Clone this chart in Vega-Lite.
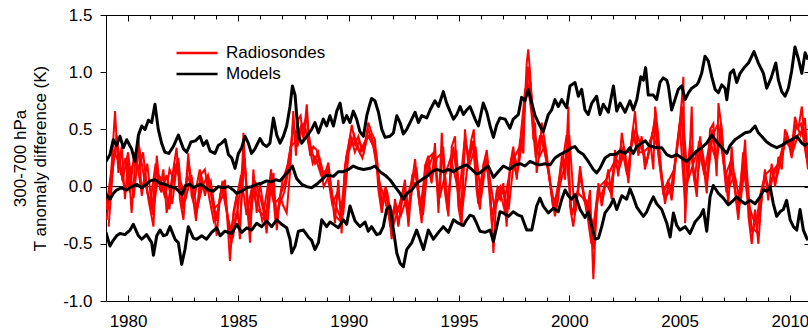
{
"$schema":"https://vega.github.io/schema/vega-lite/v6.json",
"width":702,"height":286,
"autosize":{"type":"none"},
"padding":{"left":106,"top":15,"right":0,"bottom":29},
"background":"white",
"config":{"view":{"stroke":null},"font":"Liberation Sans","axis":{"grid":false,"domainColor":"black","tickColor":"black","labelColor":"black","titleColor":"black","labelFont":"Liberation Sans","titleFont":"Liberation Sans","labelFontSize":17,"titleFontSize":17,"titleFontWeight":"normal","domainWidth":1,"tickWidth":1}},
"datasets":{
"models":[
{"s":"U","t":1979.00,"v":0.22},{"s":"U","t":1979.18,"v":0.28},{"s":"U","t":1979.33,"v":0.41},{"s":"U","t":1979.48,"v":0.36},{"s":"U","t":1979.63,"v":0.44},{"s":"U","t":1979.79,"v":0.34},{"s":"U","t":1979.94,"v":0.41},{"s":"U","t":1980.16,"v":0.33},{"s":"U","t":1980.31,"v":0.22},{"s":"U","t":1980.47,"v":0.45},{"s":"U","t":1980.62,"v":0.53},{"s":"U","t":1980.77,"v":0.50},{"s":"U","t":1980.92,"v":0.58},{"s":"U","t":1981.07,"v":0.56},{"s":"U","t":1981.22,"v":0.72},{"s":"U","t":1981.37,"v":0.50},{"s":"U","t":1981.52,"v":0.38},{"s":"U","t":1981.67,"v":0.30},{"s":"U","t":1981.85,"v":0.29},{"s":"U","t":1982.05,"v":0.35},{"s":"U","t":1982.28,"v":0.45},{"s":"U","t":1982.51,"v":0.33},{"s":"U","t":1982.66,"v":0.30},{"s":"U","t":1982.85,"v":0.39},{"s":"U","t":1983.05,"v":0.40},{"s":"U","t":1983.26,"v":0.44},{"s":"U","t":1983.41,"v":0.36},{"s":"U","t":1983.56,"v":0.40},{"s":"U","t":1983.72,"v":0.31},{"s":"U","t":1983.94,"v":0.29},{"s":"U","t":1984.09,"v":0.36},{"s":"U","t":1984.24,"v":0.38},{"s":"U","t":1984.40,"v":0.41},{"s":"U","t":1984.55,"v":0.28},{"s":"U","t":1984.70,"v":0.25},{"s":"U","t":1984.85,"v":0.16},{"s":"U","t":1985.00,"v":0.29},{"s":"U","t":1985.15,"v":0.34},{"s":"U","t":1985.30,"v":0.44},{"s":"U","t":1985.45,"v":0.38},{"s":"U","t":1985.60,"v":0.29},{"s":"U","t":1985.75,"v":0.33},{"s":"U","t":1985.98,"v":0.42},{"s":"U","t":1986.13,"v":0.37},{"s":"U","t":1986.28,"v":0.35},{"s":"U","t":1986.43,"v":0.38},{"s":"U","t":1986.59,"v":0.60},{"s":"U","t":1986.74,"v":0.45},{"s":"U","t":1986.89,"v":0.38},{"s":"U","t":1987.04,"v":0.44},{"s":"U","t":1987.19,"v":0.53},{"s":"U","t":1987.34,"v":0.70},{"s":"U","t":1987.45,"v":0.88},{"s":"U","t":1987.57,"v":0.80},{"s":"U","t":1987.72,"v":0.44},{"s":"U","t":1987.87,"v":0.38},{"s":"U","t":1988.10,"v":0.44},{"s":"U","t":1988.32,"v":0.50},{"s":"U","t":1988.47,"v":0.56},{"s":"U","t":1988.63,"v":0.47},{"s":"U","t":1988.85,"v":0.59},{"s":"U","t":1989.00,"v":0.53},{"s":"U","t":1989.15,"v":0.62},{"s":"U","t":1989.31,"v":0.53},{"s":"U","t":1989.46,"v":0.66},{"s":"U","t":1989.61,"v":0.73},{"s":"U","t":1989.76,"v":0.56},{"s":"U","t":1989.91,"v":0.62},{"s":"U","t":1990.06,"v":0.56},{"s":"U","t":1990.21,"v":0.66},{"s":"U","t":1990.36,"v":0.59},{"s":"U","t":1990.51,"v":0.48},{"s":"U","t":1990.67,"v":0.44},{"s":"U","t":1990.82,"v":0.62},{"s":"U","t":1990.93,"v":0.70},{"s":"U","t":1991.04,"v":0.77},{"s":"U","t":1991.19,"v":0.75},{"s":"U","t":1991.35,"v":0.65},{"s":"U","t":1991.50,"v":0.50},{"s":"U","t":1991.65,"v":0.43},{"s":"U","t":1991.87,"v":0.44},{"s":"U","t":1992.03,"v":0.47},{"s":"U","t":1992.18,"v":0.62},{"s":"U","t":1992.33,"v":0.56},{"s":"U","t":1992.48,"v":0.46},{"s":"U","t":1992.63,"v":0.50},{"s":"U","t":1992.86,"v":0.59},{"s":"U","t":1993.01,"v":0.65},{"s":"U","t":1993.16,"v":0.56},{"s":"U","t":1993.31,"v":0.62},{"s":"U","t":1993.54,"v":0.60},{"s":"U","t":1993.69,"v":0.67},{"s":"U","t":1993.91,"v":0.75},{"s":"U","t":1994.07,"v":0.70},{"s":"U","t":1994.29,"v":0.83},{"s":"U","t":1994.44,"v":0.73},{"s":"U","t":1994.59,"v":0.66},{"s":"U","t":1994.75,"v":0.59},{"s":"U","t":1994.90,"v":0.63},{"s":"U","t":1995.05,"v":0.70},{"s":"U","t":1995.20,"v":0.63},{"s":"U","t":1995.35,"v":0.67},{"s":"U","t":1995.50,"v":0.70},{"s":"U","t":1995.73,"v":0.59},{"s":"U","t":1995.88,"v":0.53},{"s":"U","t":1996.10,"v":0.73},{"s":"U","t":1996.26,"v":0.65},{"s":"U","t":1996.41,"v":0.53},{"s":"U","t":1996.56,"v":0.43},{"s":"U","t":1996.71,"v":0.54},{"s":"U","t":1996.86,"v":0.60},{"s":"U","t":1997.09,"v":0.59},{"s":"U","t":1997.31,"v":0.51},{"s":"U","t":1997.46,"v":0.59},{"s":"U","t":1997.69,"v":0.63},{"s":"U","t":1997.84,"v":0.78},{"s":"U","t":1997.99,"v":0.75},{"s":"U","t":1998.14,"v":0.85},{"s":"U","t":1998.30,"v":0.73},{"s":"U","t":1998.45,"v":0.62},{"s":"U","t":1998.67,"v":0.53},{"s":"U","t":1998.82,"v":0.48},{"s":"U","t":1999.05,"v":0.63},{"s":"U","t":1999.20,"v":0.67},{"s":"U","t":1999.35,"v":0.76},{"s":"U","t":1999.50,"v":0.70},{"s":"U","t":1999.66,"v":0.76},{"s":"U","t":1999.88,"v":0.69},{"s":"U","t":2000.03,"v":0.88},{"s":"U","t":2000.26,"v":0.91},{"s":"U","t":2000.41,"v":0.79},{"s":"U","t":2000.56,"v":0.85},{"s":"U","t":2000.71,"v":0.67},{"s":"U","t":2000.86,"v":0.63},{"s":"U","t":2001.02,"v":0.73},{"s":"U","t":2001.24,"v":0.79},{"s":"U","t":2001.39,"v":0.63},{"s":"U","t":2001.54,"v":0.72},{"s":"U","t":2001.77,"v":0.65},{"s":"U","t":2002.00,"v":0.88},{"s":"U","t":2002.15,"v":0.66},{"s":"U","t":2002.30,"v":0.73},{"s":"U","t":2002.53,"v":0.65},{"s":"U","t":2002.75,"v":0.75},{"s":"U","t":2002.90,"v":0.67},{"s":"U","t":2003.06,"v":0.76},{"s":"U","t":2003.24,"v":0.96},{"s":"U","t":2003.36,"v":0.93},{"s":"U","t":2003.46,"v":1.04},{"s":"U","t":2003.58,"v":0.80},{"s":"U","t":2003.81,"v":0.80},{"s":"U","t":2003.96,"v":0.76},{"s":"U","t":2004.11,"v":0.91},{"s":"U","t":2004.26,"v":0.95},{"s":"U","t":2004.42,"v":0.93},{"s":"U","t":2004.49,"v":0.88},{"s":"U","t":2004.64,"v":0.67},{"s":"U","t":2004.79,"v":0.76},{"s":"U","t":2004.94,"v":0.85},{"s":"U","t":2005.10,"v":0.88},{"s":"U","t":2005.25,"v":0.76},{"s":"U","t":2005.40,"v":0.82},{"s":"U","t":2005.55,"v":0.86},{"s":"U","t":2005.78,"v":0.89},{"s":"U","t":2005.85,"v":0.91},{"s":"U","t":2006.00,"v":0.99},{"s":"U","t":2006.15,"v":1.14},{"s":"U","t":2006.30,"v":1.10},{"s":"U","t":2006.46,"v":0.96},{"s":"U","t":2006.61,"v":0.85},{"s":"U","t":2006.76,"v":0.82},{"s":"U","t":2006.91,"v":0.89},{"s":"U","t":2007.06,"v":0.86},{"s":"U","t":2007.14,"v":0.76},{"s":"U","t":2007.29,"v":0.99},{"s":"U","t":2007.44,"v":1.02},{"s":"U","t":2007.59,"v":0.91},{"s":"U","t":2007.74,"v":0.99},{"s":"U","t":2007.97,"v":1.05},{"s":"U","t":2008.12,"v":1.08},{"s":"U","t":2008.37,"v":1.18},{"s":"U","t":2008.57,"v":1.08},{"s":"U","t":2008.80,"v":0.99},{"s":"U","t":2008.95,"v":0.86},{"s":"U","t":2009.15,"v":0.95},{"s":"U","t":2009.36,"v":1.08},{"s":"U","t":2009.48,"v":0.93},{"s":"U","t":2009.63,"v":0.83},{"s":"U","t":2009.78,"v":0.79},{"s":"U","t":2009.93,"v":0.86},{"s":"U","t":2010.08,"v":1.01},{"s":"U","t":2010.23,"v":1.22},{"s":"U","t":2010.38,"v":1.12},{"s":"U","t":2010.54,"v":0.99},{"s":"U","t":2010.69,"v":1.17},{"s":"U","t":2010.82,"v":1.11},
{"s":"M","t":1979.00,"v":-0.07},{"s":"M","t":1979.18,"v":-0.11},{"s":"M","t":1979.33,"v":-0.06},{"s":"M","t":1979.48,"v":-0.03},{"s":"M","t":1979.71,"v":-0.01},{"s":"M","t":1979.94,"v":-0.03},{"s":"M","t":1980.16,"v":0.00},{"s":"M","t":1980.39,"v":0.02},{"s":"M","t":1980.62,"v":-0.01},{"s":"M","t":1980.84,"v":0.02},{"s":"M","t":1980.99,"v":0.05},{"s":"M","t":1981.22,"v":0.06},{"s":"M","t":1981.45,"v":0.03},{"s":"M","t":1981.67,"v":0.02},{"s":"M","t":1981.90,"v":0.00},{"s":"M","t":1982.13,"v":-0.01},{"s":"M","t":1982.30,"v":-0.04},{"s":"M","t":1982.45,"v":-0.07},{"s":"M","t":1982.60,"v":0.01},{"s":"M","t":1982.80,"v":0.02},{"s":"M","t":1982.96,"v":-0.01},{"s":"M","t":1983.26,"v":0.02},{"s":"M","t":1983.45,"v":0.00},{"s":"M","t":1983.64,"v":-0.03},{"s":"M","t":1983.87,"v":-0.04},{"s":"M","t":1984.09,"v":0.00},{"s":"M","t":1984.32,"v":-0.01},{"s":"M","t":1984.55,"v":0.00},{"s":"M","t":1984.77,"v":-0.03},{"s":"M","t":1984.92,"v":-0.06},{"s":"M","t":1985.15,"v":-0.04},{"s":"M","t":1985.38,"v":-0.01},{"s":"M","t":1985.60,"v":0.00},{"s":"M","t":1985.83,"v":0.02},{"s":"M","t":1986.06,"v":0.03},{"s":"M","t":1986.28,"v":0.05},{"s":"M","t":1986.50,"v":0.04},{"s":"M","t":1986.70,"v":0.06},{"s":"M","t":1986.89,"v":0.05},{"s":"M","t":1987.11,"v":0.10},{"s":"M","t":1987.34,"v":0.15},{"s":"M","t":1987.45,"v":0.18},{"s":"M","t":1987.64,"v":0.07},{"s":"M","t":1987.87,"v":0.02},{"s":"M","t":1988.10,"v":0.00},{"s":"M","t":1988.32,"v":-0.01},{"s":"M","t":1988.55,"v":0.02},{"s":"M","t":1988.78,"v":0.06},{"s":"M","t":1989.00,"v":0.10},{"s":"M","t":1989.31,"v":0.09},{"s":"M","t":1989.53,"v":0.13},{"s":"M","t":1989.76,"v":0.13},{"s":"M","t":1989.99,"v":0.15},{"s":"M","t":1990.21,"v":0.18},{"s":"M","t":1990.44,"v":0.16},{"s":"M","t":1990.67,"v":0.15},{"s":"M","t":1990.97,"v":0.16},{"s":"M","t":1991.19,"v":0.18},{"s":"M","t":1991.42,"v":0.13},{"s":"M","t":1991.65,"v":0.10},{"s":"M","t":1991.87,"v":0.06},{"s":"M","t":1992.10,"v":0.00},{"s":"M","t":1992.33,"v":-0.06},{"s":"M","t":1992.48,"v":-0.11},{"s":"M","t":1992.63,"v":-0.06},{"s":"M","t":1992.86,"v":-0.03},{"s":"M","t":1993.08,"v":0.03},{"s":"M","t":1993.31,"v":0.06},{"s":"M","t":1993.54,"v":0.09},{"s":"M","t":1993.76,"v":0.13},{"s":"M","t":1993.99,"v":0.15},{"s":"M","t":1994.29,"v":0.13},{"s":"M","t":1994.52,"v":0.15},{"s":"M","t":1994.75,"v":0.13},{"s":"M","t":1994.97,"v":0.16},{"s":"M","t":1995.20,"v":0.18},{"s":"M","t":1995.35,"v":0.19},{"s":"M","t":1995.58,"v":0.15},{"s":"M","t":1995.80,"v":0.11},{"s":"M","t":1995.95,"v":0.12},{"s":"M","t":1996.18,"v":0.16},{"s":"M","t":1996.33,"v":0.18},{"s":"M","t":1996.56,"v":0.08},{"s":"M","t":1996.78,"v":0.13},{"s":"M","t":1997.01,"v":0.18},{"s":"M","t":1997.31,"v":0.15},{"s":"M","t":1997.54,"v":0.19},{"s":"M","t":1997.77,"v":0.20},{"s":"M","t":1997.99,"v":0.18},{"s":"M","t":1998.22,"v":0.22},{"s":"M","t":1998.45,"v":0.20},{"s":"M","t":1998.67,"v":0.19},{"s":"M","t":1998.90,"v":0.20},{"s":"M","t":1999.13,"v":0.19},{"s":"M","t":1999.35,"v":0.25},{"s":"M","t":1999.58,"v":0.28},{"s":"M","t":1999.88,"v":0.31},{"s":"M","t":2000.11,"v":0.34},{"s":"M","t":2000.26,"v":0.35},{"s":"M","t":2000.41,"v":0.31},{"s":"M","t":2000.64,"v":0.28},{"s":"M","t":2000.86,"v":0.22},{"s":"M","t":2001.09,"v":0.15},{"s":"M","t":2001.24,"v":0.12},{"s":"M","t":2001.39,"v":0.16},{"s":"M","t":2001.62,"v":0.25},{"s":"M","t":2001.85,"v":0.28},{"s":"M","t":2002.07,"v":0.28},{"s":"M","t":2002.30,"v":0.31},{"s":"M","t":2002.53,"v":0.29},{"s":"M","t":2002.75,"v":0.34},{"s":"M","t":2002.90,"v":0.29},{"s":"M","t":2003.06,"v":0.35},{"s":"M","t":2003.28,"v":0.38},{"s":"M","t":2003.45,"v":0.40},{"s":"M","t":2003.60,"v":0.36},{"s":"M","t":2003.74,"v":0.35},{"s":"M","t":2003.96,"v":0.34},{"s":"M","t":2004.19,"v":0.34},{"s":"M","t":2004.42,"v":0.28},{"s":"M","t":2004.64,"v":0.26},{"s":"M","t":2004.87,"v":0.28},{"s":"M","t":2005.10,"v":0.25},{"s":"M","t":2005.32,"v":0.22},{"s":"M","t":2005.47,"v":0.25},{"s":"M","t":2005.62,"v":0.28},{"s":"M","t":2005.78,"v":0.31},{"s":"M","t":2006.00,"v":0.34},{"s":"M","t":2006.23,"v":0.38},{"s":"M","t":2006.46,"v":0.45},{"s":"M","t":2006.68,"v":0.39},{"s":"M","t":2006.91,"v":0.34},{"s":"M","t":2007.14,"v":0.29},{"s":"M","t":2007.29,"v":0.36},{"s":"M","t":2007.51,"v":0.41},{"s":"M","t":2007.74,"v":0.44},{"s":"M","t":2007.97,"v":0.47},{"s":"M","t":2008.19,"v":0.48},{"s":"M","t":2008.42,"v":0.53},{"s":"M","t":2008.57,"v":0.47},{"s":"M","t":2008.72,"v":0.44},{"s":"M","t":2008.95,"v":0.39},{"s":"M","t":2009.18,"v":0.36},{"s":"M","t":2009.40,"v":0.34},{"s":"M","t":2009.63,"v":0.36},{"s":"M","t":2009.85,"v":0.39},{"s":"M","t":2010.08,"v":0.41},{"s":"M","t":2010.31,"v":0.44},{"s":"M","t":2010.54,"v":0.38},{"s":"M","t":2010.69,"v":0.36},{"s":"M","t":2010.82,"v":0.38},
{"s":"L","t":1979.00,"v":-0.40},{"s":"L","t":1979.18,"v":-0.52},{"s":"L","t":1979.33,"v":-0.47},{"s":"L","t":1979.48,"v":-0.43},{"s":"L","t":1979.63,"v":-0.41},{"s":"L","t":1979.86,"v":-0.42},{"s":"L","t":1980.09,"v":-0.38},{"s":"L","t":1980.24,"v":-0.33},{"s":"L","t":1980.47,"v":-0.43},{"s":"L","t":1980.62,"v":-0.46},{"s":"L","t":1980.84,"v":-0.42},{"s":"L","t":1981.07,"v":-0.49},{"s":"L","t":1981.15,"v":-0.60},{"s":"L","t":1981.30,"v":-0.43},{"s":"L","t":1981.45,"v":-0.38},{"s":"L","t":1981.60,"v":-0.43},{"s":"L","t":1981.75,"v":-0.42},{"s":"L","t":1981.90,"v":-0.35},{"s":"L","t":1982.13,"v":-0.46},{"s":"L","t":1982.28,"v":-0.49},{"s":"L","t":1982.43,"v":-0.68},{"s":"L","t":1982.58,"v":-0.55},{"s":"L","t":1982.73,"v":-0.35},{"s":"L","t":1982.96,"v":-0.45},{"s":"L","t":1983.11,"v":-0.46},{"s":"L","t":1983.34,"v":-0.43},{"s":"L","t":1983.56,"v":-0.46},{"s":"L","t":1983.79,"v":-0.40},{"s":"L","t":1984.02,"v":-0.36},{"s":"L","t":1984.17,"v":-0.43},{"s":"L","t":1984.39,"v":-0.39},{"s":"L","t":1984.70,"v":-0.41},{"s":"L","t":1984.92,"v":-0.33},{"s":"L","t":1985.15,"v":-0.40},{"s":"L","t":1985.38,"v":-0.36},{"s":"L","t":1985.60,"v":-0.38},{"s":"L","t":1985.83,"v":-0.32},{"s":"L","t":1986.06,"v":-0.35},{"s":"L","t":1986.28,"v":-0.30},{"s":"L","t":1986.51,"v":-0.35},{"s":"L","t":1986.74,"v":-0.29},{"s":"L","t":1986.96,"v":-0.33},{"s":"L","t":1987.19,"v":-0.36},{"s":"L","t":1987.34,"v":-0.46},{"s":"L","t":1987.42,"v":-0.58},{"s":"L","t":1987.57,"v":-0.52},{"s":"L","t":1987.72,"v":-0.39},{"s":"L","t":1987.95,"v":-0.38},{"s":"L","t":1988.17,"v":-0.44},{"s":"L","t":1988.32,"v":-0.47},{"s":"L","t":1988.47,"v":-0.55},{"s":"L","t":1988.63,"v":-0.49},{"s":"L","t":1988.78,"v":-0.29},{"s":"L","t":1989.00,"v":-0.35},{"s":"L","t":1989.15,"v":-0.31},{"s":"L","t":1989.31,"v":-0.33},{"s":"L","t":1989.53,"v":-0.36},{"s":"L","t":1989.76,"v":-0.29},{"s":"L","t":1989.91,"v":-0.33},{"s":"L","t":1990.06,"v":-0.17},{"s":"L","t":1990.29,"v":-0.30},{"s":"L","t":1990.51,"v":-0.35},{"s":"L","t":1990.74,"v":-0.31},{"s":"L","t":1990.89,"v":-0.39},{"s":"L","t":1991.04,"v":-0.35},{"s":"L","t":1991.27,"v":-0.42},{"s":"L","t":1991.42,"v":-0.41},{"s":"L","t":1991.57,"v":-0.35},{"s":"L","t":1991.72,"v":-0.20},{"s":"L","t":1991.87,"v":-0.17},{"s":"L","t":1992.03,"v":-0.38},{"s":"L","t":1992.18,"v":-0.58},{"s":"L","t":1992.33,"v":-0.67},{"s":"L","t":1992.48,"v":-0.70},{"s":"L","t":1992.63,"v":-0.55},{"s":"L","t":1992.86,"v":-0.49},{"s":"L","t":1993.08,"v":-0.38},{"s":"L","t":1993.23,"v":-0.46},{"s":"L","t":1993.39,"v":-0.55},{"s":"L","t":1993.61,"v":-0.38},{"s":"L","t":1993.84,"v":-0.46},{"s":"L","t":1994.07,"v":-0.40},{"s":"L","t":1994.29,"v":-0.35},{"s":"L","t":1994.52,"v":-0.40},{"s":"L","t":1994.75,"v":-0.29},{"s":"L","t":1994.97,"v":-0.32},{"s":"L","t":1995.20,"v":-0.34},{"s":"L","t":1995.35,"v":-0.29},{"s":"L","t":1995.50,"v":-0.25},{"s":"L","t":1995.65,"v":-0.26},{"s":"L","t":1995.80,"v":-0.32},{"s":"L","t":1995.95,"v":-0.39},{"s":"L","t":1996.18,"v":-0.40},{"s":"L","t":1996.41,"v":-0.38},{"s":"L","t":1996.56,"v":-0.48},{"s":"L","t":1996.71,"v":-0.35},{"s":"L","t":1996.86,"v":-0.22},{"s":"L","t":1997.01,"v":-0.23},{"s":"L","t":1997.24,"v":-0.26},{"s":"L","t":1997.46,"v":-0.22},{"s":"L","t":1997.69,"v":-0.25},{"s":"L","t":1997.84,"v":-0.26},{"s":"L","t":1998.07,"v":-0.38},{"s":"L","t":1998.30,"v":-0.38},{"s":"L","t":1998.52,"v":-0.17},{"s":"L","t":1998.67,"v":-0.10},{"s":"L","t":1998.82,"v":-0.17},{"s":"L","t":1999.05,"v":-0.23},{"s":"L","t":1999.28,"v":-0.19},{"s":"L","t":1999.50,"v":-0.22},{"s":"L","t":1999.66,"v":-0.11},{"s":"L","t":1999.81,"v":-0.03},{"s":"L","t":1999.96,"v":-0.08},{"s":"L","t":2000.11,"v":-0.11},{"s":"L","t":2000.26,"v":-0.07},{"s":"L","t":2000.49,"v":-0.20},{"s":"L","t":2000.71,"v":-0.27},{"s":"L","t":2000.86,"v":-0.22},{"s":"L","t":2001.02,"v":-0.35},{"s":"L","t":2001.17,"v":-0.46},{"s":"L","t":2001.32,"v":-0.45},{"s":"L","t":2001.47,"v":-0.35},{"s":"L","t":2001.62,"v":-0.23},{"s":"L","t":2001.85,"v":-0.17},{"s":"L","t":2002.00,"v":-0.11},{"s":"L","t":2002.15,"v":-0.20},{"s":"L","t":2002.38,"v":-0.08},{"s":"L","t":2002.60,"v":-0.11},{"s":"L","t":2002.75,"v":-0.02},{"s":"L","t":2002.90,"v":-0.09},{"s":"L","t":2003.06,"v":-0.18},{"s":"L","t":2003.21,"v":-0.22},{"s":"L","t":2003.36,"v":-0.26},{"s":"L","t":2003.51,"v":-0.22},{"s":"L","t":2003.66,"v":-0.15},{"s":"L","t":2003.81,"v":-0.09},{"s":"L","t":2003.96,"v":-0.15},{"s":"L","t":2004.19,"v":-0.20},{"s":"L","t":2004.42,"v":-0.32},{"s":"L","t":2004.57,"v":-0.44},{"s":"L","t":2004.72,"v":-0.23},{"s":"L","t":2004.87,"v":-0.34},{"s":"L","t":2005.02,"v":-0.38},{"s":"L","t":2005.25,"v":-0.35},{"s":"L","t":2005.47,"v":-0.41},{"s":"L","t":2005.70,"v":-0.31},{"s":"L","t":2005.93,"v":-0.26},{"s":"L","t":2006.08,"v":-0.20},{"s":"L","t":2006.23,"v":-0.39},{"s":"L","t":2006.38,"v":-0.09},{"s":"L","t":2006.53,"v":0.01},{"s":"L","t":2006.76,"v":-0.06},{"s":"L","t":2006.98,"v":-0.10},{"s":"L","t":2007.21,"v":-0.16},{"s":"L","t":2007.44,"v":-0.12},{"s":"L","t":2007.59,"v":-0.09},{"s":"L","t":2007.74,"v":-0.12},{"s":"L","t":2007.97,"v":-0.15},{"s":"L","t":2008.19,"v":-0.12},{"s":"L","t":2008.42,"v":-0.15},{"s":"L","t":2008.65,"v":-0.09},{"s":"L","t":2008.80,"v":-0.03},{"s":"L","t":2008.95,"v":-0.04},{"s":"L","t":2009.10,"v":0.00},{"s":"L","t":2009.25,"v":-0.15},{"s":"L","t":2009.40,"v":-0.26},{"s":"L","t":2009.55,"v":-0.22},{"s":"L","t":2009.70,"v":-0.20},{"s":"L","t":2009.85,"v":-0.12},{"s":"L","t":2010.01,"v":-0.29},{"s":"L","t":2010.16,"v":-0.35},{"s":"L","t":2010.31,"v":-0.38},{"s":"L","t":2010.46,"v":-0.20},{"s":"L","t":2010.61,"v":-0.38},{"s":"L","t":2010.76,"v":-0.45},{"s":"L","t":2010.82,"v":-0.47}
],
"sondes":[
{"s":"R1","t":1979.03,"v":-0.29},{"s":"R1","t":1979.18,"v":-0.03},{"s":"R1","t":1979.30,"v":0.32},{"s":"R1","t":1979.41,"v":0.66},{"s":"R1","t":1979.56,"v":0.12},{"s":"R1","t":1979.71,"v":0.35},{"s":"R1","t":1979.86,"v":-0.11},{"s":"R1","t":1980.01,"v":0.24},{"s":"R1","t":1980.16,"v":-0.23},{"s":"R1","t":1980.31,"v":0.18},{"s":"R1","t":1980.47,"v":0.44},{"s":"R1","t":1980.62,"v":-0.08},{"s":"R1","t":1980.77,"v":0.12},{"s":"R1","t":1980.92,"v":-0.11},{"s":"R1","t":1981.15,"v":-0.35},{"s":"R1","t":1981.30,"v":0.27},{"s":"R1","t":1981.45,"v":-0.03},{"s":"R1","t":1981.60,"v":0.15},{"s":"R1","t":1981.75,"v":-0.23},{"s":"R1","t":1981.98,"v":0.06},{"s":"R1","t":1982.20,"v":0.34},{"s":"R1","t":1982.35,"v":-0.11},{"s":"R1","t":1982.51,"v":-0.29},{"s":"R1","t":1982.73,"v":0.29},{"s":"R1","t":1982.88,"v":-0.08},{"s":"R1","t":1983.11,"v":-0.23},{"s":"R1","t":1983.34,"v":0.06},{"s":"R1","t":1983.49,"v":-0.08},{"s":"R1","t":1983.64,"v":0.09},{"s":"R1","t":1983.87,"v":-0.17},{"s":"R1","t":1984.02,"v":-0.43},{"s":"R1","t":1984.17,"v":-0.08},{"s":"R1","t":1984.39,"v":0.06},{"s":"R1","t":1984.52,"v":-0.35},{"s":"R1","t":1984.62,"v":-0.65},{"s":"R1","t":1984.77,"v":-0.23},{"s":"R1","t":1984.92,"v":-0.08},{"s":"R1","t":1985.07,"v":-0.46},{"s":"R1","t":1985.23,"v":0.47},{"s":"R1","t":1985.38,"v":-0.11},{"s":"R1","t":1985.53,"v":-0.49},{"s":"R1","t":1985.68,"v":0.15},{"s":"R1","t":1985.83,"v":-0.23},{"s":"R1","t":1985.98,"v":0.03},{"s":"R1","t":1986.13,"v":-0.17},{"s":"R1","t":1986.28,"v":-0.41},{"s":"R1","t":1986.43,"v":-0.08},{"s":"R1","t":1986.59,"v":0.12},{"s":"R1","t":1986.74,"v":-0.38},{"s":"R1","t":1986.89,"v":-0.08},{"s":"R1","t":1987.04,"v":-0.17},{"s":"R1","t":1987.19,"v":-0.23},{"s":"R1","t":1987.34,"v":0.12},{"s":"R1","t":1987.49,"v":0.66},{"s":"R1","t":1987.61,"v":0.27},{"s":"R1","t":1987.72,"v":0.59},{"s":"R1","t":1987.82,"v":0.62},{"s":"R1","t":1987.95,"v":0.41},{"s":"R1","t":1988.10,"v":0.72},{"s":"R1","t":1988.25,"v":0.27},{"s":"R1","t":1988.40,"v":0.35},{"s":"R1","t":1988.55,"v":0.32},{"s":"R1","t":1988.70,"v":0.18},{"s":"R1","t":1988.85,"v":0.06},{"s":"R1","t":1989.08,"v":0.21},{"s":"R1","t":1989.23,"v":-0.06},{"s":"R1","t":1989.38,"v":-0.32},{"s":"R1","t":1989.53,"v":0.06},{"s":"R1","t":1989.68,"v":-0.41},{"s":"R1","t":1989.83,"v":0.18},{"s":"R1","t":1989.99,"v":0.35},{"s":"R1","t":1990.14,"v":0.54},{"s":"R1","t":1990.29,"v":0.38},{"s":"R1","t":1990.44,"v":0.44},{"s":"R1","t":1990.59,"v":0.32},{"s":"R1","t":1990.74,"v":0.38},{"s":"R1","t":1990.89,"v":0.56},{"s":"R1","t":1991.04,"v":0.47},{"s":"R1","t":1991.19,"v":0.41},{"s":"R1","t":1991.35,"v":-0.03},{"s":"R1","t":1991.50,"v":-0.23},{"s":"R1","t":1991.65,"v":-0.03},{"s":"R1","t":1991.80,"v":-0.17},{"s":"R1","t":1991.95,"v":-0.46},{"s":"R1","t":1992.10,"v":-0.11},{"s":"R1","t":1992.25,"v":-0.35},{"s":"R1","t":1992.40,"v":-0.11},{"s":"R1","t":1992.55,"v":0.06},{"s":"R1","t":1992.71,"v":-0.35},{"s":"R1","t":1992.86,"v":0.03},{"s":"R1","t":1993.01,"v":0.24},{"s":"R1","t":1993.16,"v":-0.08},{"s":"R1","t":1993.31,"v":-0.32},{"s":"R1","t":1993.46,"v":0.18},{"s":"R1","t":1993.61,"v":0.27},{"s":"R1","t":1993.76,"v":0.03},{"s":"R1","t":1993.91,"v":0.38},{"s":"R1","t":1994.07,"v":-0.23},{"s":"R1","t":1994.22,"v":0.47},{"s":"R1","t":1994.37,"v":-0.06},{"s":"R1","t":1994.52,"v":-0.26},{"s":"R1","t":1994.67,"v":0.35},{"s":"R1","t":1994.82,"v":0.44},{"s":"R1","t":1994.97,"v":-0.17},{"s":"R1","t":1995.12,"v":-0.35},{"s":"R1","t":1995.27,"v":0.50},{"s":"R1","t":1995.42,"v":0.20},{"s":"R1","t":1995.55,"v":0.40},{"s":"R1","t":1995.67,"v":0.50},{"s":"R1","t":1995.80,"v":-0.03},{"s":"R1","t":1995.95,"v":-0.20},{"s":"R1","t":1996.10,"v":0.18},{"s":"R1","t":1996.26,"v":0.32},{"s":"R1","t":1996.41,"v":0.00},{"s":"R1","t":1996.56,"v":-0.58},{"s":"R1","t":1996.71,"v":-0.03},{"s":"R1","t":1996.86,"v":-0.11},{"s":"R1","t":1997.01,"v":0.03},{"s":"R1","t":1997.16,"v":-0.35},{"s":"R1","t":1997.31,"v":0.18},{"s":"R1","t":1997.46,"v":0.35},{"s":"R1","t":1997.62,"v":0.06},{"s":"R1","t":1997.77,"v":0.41},{"s":"R1","t":1997.92,"v":0.29},{"s":"R1","t":1997.99,"v":0.76},{"s":"R1","t":1998.07,"v":1.08},{"s":"R1","t":1998.14,"v":1.20},{"s":"R1","t":1998.22,"v":1.00},{"s":"R1","t":1998.30,"v":0.70},{"s":"R1","t":1998.37,"v":0.41},{"s":"R1","t":1998.45,"v":0.56},{"s":"R1","t":1998.52,"v":0.12},{"s":"R1","t":1998.67,"v":0.32},{"s":"R1","t":1998.75,"v":0.56},{"s":"R1","t":1998.90,"v":0.38},{"s":"R1","t":1999.05,"v":0.18},{"s":"R1","t":1999.20,"v":-0.06},{"s":"R1","t":1999.35,"v":-0.26},{"s":"R1","t":1999.50,"v":-0.11},{"s":"R1","t":1999.66,"v":0.27},{"s":"R1","t":1999.81,"v":0.06},{"s":"R1","t":1999.96,"v":0.70},{"s":"R1","t":2000.03,"v":-0.17},{"s":"R1","t":2000.18,"v":-0.35},{"s":"R1","t":2000.34,"v":-0.11},{"s":"R1","t":2000.49,"v":0.18},{"s":"R1","t":2000.64,"v":-0.06},{"s":"R1","t":2000.79,"v":-0.23},{"s":"R1","t":2000.94,"v":-0.03},{"s":"R1","t":2001.09,"v":-0.81},{"s":"R1","t":2001.17,"v":-0.46},{"s":"R1","t":2001.32,"v":0.03},{"s":"R1","t":2001.47,"v":-0.17},{"s":"R1","t":2001.62,"v":0.00},{"s":"R1","t":2001.77,"v":0.15},{"s":"R1","t":2001.92,"v":-0.11},{"s":"R1","t":2002.07,"v":0.32},{"s":"R1","t":2002.22,"v":0.09},{"s":"R1","t":2002.38,"v":0.47},{"s":"R1","t":2002.53,"v":0.27},{"s":"R1","t":2002.68,"v":0.03},{"s":"R1","t":2002.83,"v":0.41},{"s":"R1","t":2002.98,"v":0.66},{"s":"R1","t":2003.13,"v":0.27},{"s":"R1","t":2003.28,"v":0.44},{"s":"R1","t":2003.43,"v":0.15},{"s":"R1","t":2003.58,"v":0.29},{"s":"R1","t":2003.66,"v":0.41},{"s":"R1","t":2003.81,"v":0.15},{"s":"R1","t":2003.89,"v":0.70},{"s":"R1","t":2004.04,"v":0.44},{"s":"R1","t":2004.19,"v":0.06},{"s":"R1","t":2004.34,"v":-0.15},{"s":"R1","t":2004.49,"v":0.03},{"s":"R1","t":2004.64,"v":-0.12},{"s":"R1","t":2004.79,"v":0.20},{"s":"R1","t":2004.94,"v":0.41},{"s":"R1","t":2005.10,"v":0.76},{"s":"R1","t":2005.17,"v":0.96},{"s":"R1","t":2005.25,"v":-0.32},{"s":"R1","t":2005.32,"v":-0.03},{"s":"R1","t":2005.47,"v":0.35},{"s":"R1","t":2005.55,"v":0.70},{"s":"R1","t":2005.62,"v":0.12},{"s":"R1","t":2005.78,"v":-0.09},{"s":"R1","t":2005.93,"v":0.44},{"s":"R1","t":2006.08,"v":0.20},{"s":"R1","t":2006.23,"v":-0.06},{"s":"R1","t":2006.38,"v":0.50},{"s":"R1","t":2006.53,"v":0.55},{"s":"R1","t":2006.68,"v":0.09},{"s":"R1","t":2006.76,"v":0.73},{"s":"R1","t":2006.91,"v":0.50},{"s":"R1","t":2007.06,"v":0.12},{"s":"R1","t":2007.21,"v":-0.15},{"s":"R1","t":2007.36,"v":0.35},{"s":"R1","t":2007.51,"v":-0.03},{"s":"R1","t":2007.66,"v":-0.29},{"s":"R1","t":2007.82,"v":0.06},{"s":"R1","t":2007.97,"v":0.41},{"s":"R1","t":2008.12,"v":-0.26},{"s":"R1","t":2008.27,"v":-0.50},{"s":"R1","t":2008.42,"v":-0.20},{"s":"R1","t":2008.57,"v":-0.50},{"s":"R1","t":2008.72,"v":-0.09},{"s":"R1","t":2008.87,"v":0.15},{"s":"R1","t":2009.02,"v":-0.12},{"s":"R1","t":2009.17,"v":0.20},{"s":"R1","t":2009.33,"v":0.00},{"s":"R1","t":2009.48,"v":0.26},{"s":"R1","t":2009.63,"v":0.15},{"s":"R1","t":2009.78,"v":0.50},{"s":"R1","t":2009.93,"v":0.41},{"s":"R1","t":2010.08,"v":0.32},{"s":"R1","t":2010.23,"v":0.61},{"s":"R1","t":2010.38,"v":0.50},{"s":"R1","t":2010.54,"v":0.70},{"s":"R1","t":2010.69,"v":0.35},{"s":"R1","t":2010.82,"v":0.15},
{"s":"R2","t":1979.00,"v":-0.20},{"s":"R2","t":1979.25,"v":0.15},{"s":"R2","t":1979.50,"v":0.40},{"s":"R2","t":1979.75,"v":0.05},{"s":"R2","t":1980.00,"v":0.30},{"s":"R2","t":1980.25,"v":-0.10},{"s":"R2","t":1980.50,"v":0.35},{"s":"R2","t":1980.75,"v":0.05},{"s":"R2","t":1981.00,"v":-0.15},{"s":"R2","t":1981.25,"v":0.20},{"s":"R2","t":1981.50,"v":-0.05},{"s":"R2","t":1981.75,"v":0.10},{"s":"R2","t":1982.00,"v":-0.15},{"s":"R2","t":1982.25,"v":0.25},{"s":"R2","t":1982.50,"v":-0.20},{"s":"R2","t":1982.75,"v":0.20},{"s":"R2","t":1983.00,"v":-0.10},{"s":"R2","t":1983.25,"v":0.15},{"s":"R2","t":1983.50,"v":-0.05},{"s":"R2","t":1983.75,"v":0.05},{"s":"R2","t":1984.00,"v":-0.30},{"s":"R2","t":1984.25,"v":0.00},{"s":"R2","t":1984.50,"v":-0.25},{"s":"R2","t":1984.75,"v":-0.45},{"s":"R2","t":1985.00,"v":-0.15},{"s":"R2","t":1985.25,"v":0.30},{"s":"R2","t":1985.50,"v":-0.35},{"s":"R2","t":1985.75,"v":0.05},{"s":"R2","t":1986.00,"v":-0.10},{"s":"R2","t":1986.25,"v":-0.30},{"s":"R2","t":1986.50,"v":0.10},{"s":"R2","t":1986.75,"v":-0.25},{"s":"R2","t":1987.00,"v":0.05},{"s":"R2","t":1987.25,"v":0.20},{"s":"R2","t":1987.50,"v":0.50},{"s":"R2","t":1987.75,"v":0.45},{"s":"R2","t":1988.00,"v":0.55},{"s":"R2","t":1988.25,"v":0.30},{"s":"R2","t":1988.50,"v":0.25},{"s":"R2","t":1988.75,"v":0.10},{"s":"R2","t":1989.00,"v":0.15},{"s":"R2","t":1989.25,"v":-0.15},{"s":"R2","t":1989.50,"v":-0.05},{"s":"R2","t":1989.75,"v":-0.25},{"s":"R2","t":1990.00,"v":0.30},{"s":"R2","t":1990.25,"v":0.45},{"s":"R2","t":1990.50,"v":0.30},{"s":"R2","t":1990.75,"v":0.40},{"s":"R2","t":1991.00,"v":0.45},{"s":"R2","t":1991.25,"v":0.30},{"s":"R2","t":1991.50,"v":-0.15},{"s":"R2","t":1991.75,"v":-0.05},{"s":"R2","t":1992.00,"v":-0.35},{"s":"R2","t":1992.25,"v":-0.20},{"s":"R2","t":1992.50,"v":0.00},{"s":"R2","t":1992.75,"v":-0.20},{"s":"R2","t":1993.00,"v":0.15},{"s":"R2","t":1993.25,"v":-0.20},{"s":"R2","t":1993.50,"v":0.20},{"s":"R2","t":1993.75,"v":0.05},{"s":"R2","t":1994.00,"v":0.25},{"s":"R2","t":1994.25,"v":0.30},{"s":"R2","t":1994.50,"v":-0.15},{"s":"R2","t":1994.75,"v":0.35},{"s":"R2","t":1995.00,"v":-0.10},{"s":"R2","t":1995.25,"v":0.40},{"s":"R2","t":1995.50,"v":0.20},{"s":"R2","t":1995.75,"v":0.35},{"s":"R2","t":1996.00,"v":-0.10},{"s":"R2","t":1996.25,"v":0.25},{"s":"R2","t":1996.50,"v":-0.35},{"s":"R2","t":1996.75,"v":0.00},{"s":"R2","t":1997.00,"v":-0.05},{"s":"R2","t":1997.25,"v":-0.20},{"s":"R2","t":1997.50,"v":0.25},{"s":"R2","t":1997.75,"v":0.35},{"s":"R2","t":1998.00,"v":0.85},{"s":"R2","t":1998.25,"v":0.90},{"s":"R2","t":1998.50,"v":0.30},{"s":"R2","t":1998.75,"v":0.45},{"s":"R2","t":1999.00,"v":0.20},{"s":"R2","t":1999.25,"v":-0.15},{"s":"R2","t":1999.50,"v":-0.05},{"s":"R2","t":1999.75,"v":0.15},{"s":"R2","t":2000.00,"v":0.45},{"s":"R2","t":2000.25,"v":-0.25},{"s":"R2","t":2000.50,"v":0.10},{"s":"R2","t":2000.75,"v":-0.15},{"s":"R2","t":2001.00,"v":-0.50},{"s":"R2","t":2001.25,"v":-0.10},{"s":"R2","t":2001.50,"v":-0.05},{"s":"R2","t":2001.75,"v":0.10},{"s":"R2","t":2002.00,"v":0.20},{"s":"R2","t":2002.25,"v":0.15},{"s":"R2","t":2002.50,"v":0.30},{"s":"R2","t":2002.75,"v":0.30},{"s":"R2","t":2003.00,"v":0.50},{"s":"R2","t":2003.25,"v":0.35},{"s":"R2","t":2003.50,"v":0.20},{"s":"R2","t":2003.75,"v":0.45},{"s":"R2","t":2004.00,"v":0.35},{"s":"R2","t":2004.25,"v":-0.05},{"s":"R2","t":2004.50,"v":0.05},{"s":"R2","t":2004.75,"v":0.15},{"s":"R2","t":2005.00,"v":0.55},{"s":"R2","t":2005.25,"v":-0.15},{"s":"R2","t":2005.50,"v":0.30},{"s":"R2","t":2005.75,"v":0.00},{"s":"R2","t":2006.00,"v":0.35},{"s":"R2","t":2006.25,"v":0.05},{"s":"R2","t":2006.50,"v":0.45},{"s":"R2","t":2006.75,"v":0.55},{"s":"R2","t":2007.00,"v":0.20},{"s":"R2","t":2007.25,"v":0.00},{"s":"R2","t":2007.50,"v":0.10},{"s":"R2","t":2007.75,"v":-0.15},{"s":"R2","t":2008.00,"v":0.25},{"s":"R2","t":2008.25,"v":-0.35},{"s":"R2","t":2008.50,"v":-0.40},{"s":"R2","t":2008.75,"v":0.00},{"s":"R2","t":2009.00,"v":-0.05},{"s":"R2","t":2009.25,"v":0.10},{"s":"R2","t":2009.50,"v":0.20},{"s":"R2","t":2009.75,"v":0.40},{"s":"R2","t":2010.00,"v":0.35},{"s":"R2","t":2010.25,"v":0.50},{"s":"R2","t":2010.50,"v":0.55},{"s":"R2","t":2010.75,"v":0.25},
{"s":"R3","t":1979.12,"v":-0.35},{"s":"R3","t":1979.37,"v":0.30},{"s":"R3","t":1979.62,"v":0.20},{"s":"R3","t":1979.87,"v":-0.05},{"s":"R3","t":1980.12,"v":0.15},{"s":"R3","t":1980.37,"v":0.25},{"s":"R3","t":1980.62,"v":-0.05},{"s":"R3","t":1980.87,"v":0.20},{"s":"R3","t":1981.12,"v":-0.25},{"s":"R3","t":1981.37,"v":0.10},{"s":"R3","t":1981.62,"v":0.05},{"s":"R3","t":1981.87,"v":-0.20},{"s":"R3","t":1982.12,"v":0.20},{"s":"R3","t":1982.37,"v":0.05},{"s":"R3","t":1982.62,"v":-0.10},{"s":"R3","t":1982.87,"v":0.10},{"s":"R3","t":1983.12,"v":-0.20},{"s":"R3","t":1983.37,"v":0.00},{"s":"R3","t":1983.62,"v":0.10},{"s":"R3","t":1983.87,"v":-0.20},{"s":"R3","t":1984.12,"v":-0.15},{"s":"R3","t":1984.37,"v":-0.05},{"s":"R3","t":1984.62,"v":-0.45},{"s":"R3","t":1984.87,"v":-0.15},{"s":"R3","t":1985.12,"v":0.10},{"s":"R3","t":1985.37,"v":-0.25},{"s":"R3","t":1985.62,"v":0.00},{"s":"R3","t":1985.87,"v":-0.20},{"s":"R3","t":1986.12,"v":-0.25},{"s":"R3","t":1986.37,"v":0.05},{"s":"R3","t":1986.62,"v":-0.15},{"s":"R3","t":1986.87,"v":-0.10},{"s":"R3","t":1987.12,"v":0.05},{"s":"R3","t":1987.37,"v":0.35},{"s":"R3","t":1987.62,"v":0.40},{"s":"R3","t":1987.87,"v":0.55},{"s":"R3","t":1988.12,"v":0.45},{"s":"R3","t":1988.37,"v":0.20},{"s":"R3","t":1988.62,"v":0.30},{"s":"R3","t":1988.87,"v":0.00},{"s":"R3","t":1989.12,"v":0.10},{"s":"R3","t":1989.37,"v":-0.25},{"s":"R3","t":1989.62,"v":-0.30},{"s":"R3","t":1989.87,"v":0.20},{"s":"R3","t":1990.12,"v":0.40},{"s":"R3","t":1990.37,"v":0.35},{"s":"R3","t":1990.62,"v":0.25},{"s":"R3","t":1990.87,"v":0.45},{"s":"R3","t":1991.12,"v":0.35},{"s":"R3","t":1991.37,"v":0.05},{"s":"R3","t":1991.62,"v":-0.10},{"s":"R3","t":1991.87,"v":-0.30},{"s":"R3","t":1992.12,"v":-0.15},{"s":"R3","t":1992.37,"v":-0.25},{"s":"R3","t":1992.62,"v":-0.10},{"s":"R3","t":1992.87,"v":0.05},{"s":"R3","t":1993.12,"v":0.00},{"s":"R3","t":1993.37,"v":-0.25},{"s":"R3","t":1993.62,"v":0.25},{"s":"R3","t":1993.87,"v":0.30},{"s":"R3","t":1994.12,"v":-0.10},{"s":"R3","t":1994.37,"v":0.10},{"s":"R3","t":1994.62,"v":0.25},{"s":"R3","t":1994.87,"v":0.05},{"s":"R3","t":1995.12,"v":-0.25},{"s":"R3","t":1995.37,"v":0.15},{"s":"R3","t":1995.62,"v":0.40},{"s":"R3","t":1995.87,"v":-0.15},{"s":"R3","t":1996.12,"v":0.20},{"s":"R3","t":1996.37,"v":0.10},{"s":"R3","t":1996.62,"v":-0.20},{"s":"R3","t":1996.87,"v":-0.05},{"s":"R3","t":1997.12,"v":-0.25},{"s":"R3","t":1997.37,"v":0.25},{"s":"R3","t":1997.62,"v":0.10},{"s":"R3","t":1997.87,"v":0.40},{"s":"R3","t":1998.12,"v":1.05},{"s":"R3","t":1998.37,"v":0.55},{"s":"R3","t":1998.62,"v":0.25},{"s":"R3","t":1998.87,"v":0.35},{"s":"R3","t":1999.12,"v":0.05},{"s":"R3","t":1999.37,"v":-0.20},{"s":"R3","t":1999.62,"v":0.20},{"s":"R3","t":1999.87,"v":0.25},{"s":"R3","t":2000.12,"v":-0.25},{"s":"R3","t":2000.37,"v":-0.05},{"s":"R3","t":2000.62,"v":-0.10},{"s":"R3","t":2000.87,"v":-0.20},{"s":"R3","t":2001.12,"v":-0.35},{"s":"R3","t":2001.37,"v":0.00},{"s":"R3","t":2001.62,"v":0.05},{"s":"R3","t":2001.87,"v":-0.05},{"s":"R3","t":2002.12,"v":0.25},{"s":"R3","t":2002.37,"v":0.35},{"s":"R3","t":2002.62,"v":0.10},{"s":"R3","t":2002.87,"v":0.45},{"s":"R3","t":2003.12,"v":0.30},{"s":"R3","t":2003.37,"v":0.30},{"s":"R3","t":2003.62,"v":0.35},{"s":"R3","t":2003.87,"v":0.55},{"s":"R3","t":2004.12,"v":0.15},{"s":"R3","t":2004.37,"v":-0.10},{"s":"R3","t":2004.62,"v":0.00},{"s":"R3","t":2004.87,"v":0.30},{"s":"R3","t":2005.12,"v":0.70},{"s":"R3","t":2005.37,"v":0.05},{"s":"R3","t":2005.62,"v":0.20},{"s":"R3","t":2005.87,"v":0.35},{"s":"R3","t":2006.12,"v":0.10},{"s":"R3","t":2006.37,"v":0.40},{"s":"R3","t":2006.62,"v":0.25},{"s":"R3","t":2006.87,"v":0.45},{"s":"R3","t":2007.12,"v":-0.05},{"s":"R3","t":2007.37,"v":0.25},{"s":"R3","t":2007.62,"v":-0.20},{"s":"R3","t":2007.87,"v":0.20},{"s":"R3","t":2008.12,"v":-0.15},{"s":"R3","t":2008.37,"v":-0.30},{"s":"R3","t":2008.62,"v":-0.25},{"s":"R3","t":2008.87,"v":0.10},{"s":"R3","t":2009.12,"v":0.15},{"s":"R3","t":2009.37,"v":0.05},{"s":"R3","t":2009.62,"v":0.25},{"s":"R3","t":2009.87,"v":0.45},{"s":"R3","t":2010.12,"v":0.30},{"s":"R3","t":2010.37,"v":0.45},{"s":"R3","t":2010.62,"v":0.50},{"s":"R3","t":2010.82,"v":0.30},
{"s":"R4","t":1979.08,"v":-0.15},{"s":"R4","t":1979.28,"v":0.10},{"s":"R4","t":1979.48,"v":0.45},{"s":"R4","t":1979.68,"v":0.10},{"s":"R4","t":1979.88,"v":0.25},{"s":"R4","t":1980.08,"v":-0.05},{"s":"R4","t":1980.28,"v":0.30},{"s":"R4","t":1980.48,"v":0.15},{"s":"R4","t":1980.68,"v":0.30},{"s":"R4","t":1980.88,"v":-0.05},{"s":"R4","t":1981.08,"v":-0.20},{"s":"R4","t":1981.28,"v":0.15},{"s":"R4","t":1981.48,"v":0.05},{"s":"R4","t":1981.68,"v":-0.10},{"s":"R4","t":1981.88,"v":0.15},{"s":"R4","t":1982.08,"v":0.05},{"s":"R4","t":1982.28,"v":0.25},{"s":"R4","t":1982.48,"v":-0.20},{"s":"R4","t":1982.68,"v":0.10},{"s":"R4","t":1982.88,"v":0.00},{"s":"R4","t":1983.08,"v":-0.30},{"s":"R4","t":1983.28,"v":0.10},{"s":"R4","t":1983.48,"v":0.15},{"s":"R4","t":1983.68,"v":-0.10},{"s":"R4","t":1983.88,"v":-0.30},{"s":"R4","t":1984.08,"v":-0.20},{"s":"R4","t":1984.28,"v":0.05},{"s":"R4","t":1984.48,"v":-0.20},{"s":"R4","t":1984.68,"v":-0.50},{"s":"R4","t":1984.88,"v":-0.25},{"s":"R4","t":1985.08,"v":-0.30},{"s":"R4","t":1985.28,"v":0.25},{"s":"R4","t":1985.48,"v":-0.30},{"s":"R4","t":1985.68,"v":0.05},{"s":"R4","t":1985.88,"v":-0.10},{"s":"R4","t":1986.08,"v":-0.30},{"s":"R4","t":1986.28,"v":-0.20},{"s":"R4","t":1986.48,"v":0.15},{"s":"R4","t":1986.68,"v":-0.30},{"s":"R4","t":1986.88,"v":-0.15},{"s":"R4","t":1987.08,"v":-0.05},{"s":"R4","t":1987.28,"v":0.15},{"s":"R4","t":1987.48,"v":0.55},{"s":"R4","t":1987.68,"v":0.35},{"s":"R4","t":1987.88,"v":0.50},{"s":"R4","t":1988.08,"v":0.60},{"s":"R4","t":1988.28,"v":0.35},{"s":"R4","t":1988.48,"v":0.20},{"s":"R4","t":1988.68,"v":0.25},{"s":"R4","t":1988.88,"v":0.10},{"s":"R4","t":1989.08,"v":0.15},{"s":"R4","t":1989.28,"v":-0.10},{"s":"R4","t":1989.48,"v":-0.20},{"s":"R4","t":1989.68,"v":-0.30},{"s":"R4","t":1989.88,"v":0.25},{"s":"R4","t":1990.08,"v":0.45},{"s":"R4","t":1990.28,"v":0.30},{"s":"R4","t":1990.48,"v":0.40},{"s":"R4","t":1990.68,"v":0.30},{"s":"R4","t":1990.88,"v":0.50},{"s":"R4","t":1991.08,"v":0.40},{"s":"R4","t":1991.28,"v":0.20},{"s":"R4","t":1991.48,"v":-0.15},{"s":"R4","t":1991.68,"v":0.00},{"s":"R4","t":1991.88,"v":-0.35},{"s":"R4","t":1992.08,"v":-0.20},{"s":"R4","t":1992.28,"v":-0.30},{"s":"R4","t":1992.48,"v":-0.05},{"s":"R4","t":1992.68,"v":-0.25},{"s":"R4","t":1992.88,"v":0.10},{"s":"R4","t":1993.08,"v":0.15},{"s":"R4","t":1993.28,"v":-0.25},{"s":"R4","t":1993.48,"v":0.10},{"s":"R4","t":1993.68,"v":0.20},{"s":"R4","t":1993.88,"v":0.30},{"s":"R4","t":1994.08,"v":-0.15},{"s":"R4","t":1994.28,"v":0.35},{"s":"R4","t":1994.48,"v":-0.20},{"s":"R4","t":1994.68,"v":0.25},{"s":"R4","t":1994.88,"v":0.30},{"s":"R4","t":1995.08,"v":-0.25},{"s":"R4","t":1995.28,"v":0.40},{"s":"R4","t":1995.48,"v":0.25},{"s":"R4","t":1995.68,"v":0.40},{"s":"R4","t":1995.88,"v":-0.10},{"s":"R4","t":1996.08,"v":0.15},{"s":"R4","t":1996.28,"v":0.25},{"s":"R4","t":1996.48,"v":-0.25},{"s":"R4","t":1996.68,"v":-0.10},{"s":"R4","t":1996.88,"v":0.00},{"s":"R4","t":1997.08,"v":-0.10},{"s":"R4","t":1997.28,"v":0.10},{"s":"R4","t":1997.48,"v":0.30},{"s":"R4","t":1997.68,"v":0.15},{"s":"R4","t":1997.88,"v":0.45},{"s":"R4","t":1998.08,"v":0.95},{"s":"R4","t":1998.28,"v":0.65},{"s":"R4","t":1998.48,"v":0.25},{"s":"R4","t":1998.68,"v":0.45},{"s":"R4","t":1998.88,"v":0.30},{"s":"R4","t":1999.08,"v":0.10},{"s":"R4","t":1999.28,"v":-0.20},{"s":"R4","t":1999.48,"v":0.00},{"s":"R4","t":1999.68,"v":0.20},{"s":"R4","t":1999.88,"v":0.45},{"s":"R4","t":2000.08,"v":-0.20},{"s":"R4","t":2000.28,"v":-0.20},{"s":"R4","t":2000.48,"v":0.10},{"s":"R4","t":2000.68,"v":-0.10},{"s":"R4","t":2000.88,"v":-0.15},{"s":"R4","t":2001.08,"v":-0.55},{"s":"R4","t":2001.28,"v":-0.05},{"s":"R4","t":2001.48,"v":-0.10},{"s":"R4","t":2001.68,"v":0.05},{"s":"R4","t":2001.88,"v":0.00},{"s":"R4","t":2002.08,"v":0.25},{"s":"R4","t":2002.28,"v":0.20},{"s":"R4","t":2002.48,"v":0.35},{"s":"R4","t":2002.68,"v":0.10},{"s":"R4","t":2002.88,"v":0.50},{"s":"R4","t":2003.08,"v":0.35},{"s":"R4","t":2003.28,"v":0.40},{"s":"R4","t":2003.48,"v":0.20},{"s":"R4","t":2003.68,"v":0.35},{"s":"R4","t":2003.88,"v":0.60},{"s":"R4","t":2004.08,"v":0.30},{"s":"R4","t":2004.28,"v":-0.05},{"s":"R4","t":2004.48,"v":0.05},{"s":"R4","t":2004.68,"v":-0.05},{"s":"R4","t":2004.88,"v":0.35},{"s":"R4","t":2005.08,"v":0.65},{"s":"R4","t":2005.28,"v":-0.10},{"s":"R4","t":2005.48,"v":0.40},{"s":"R4","t":2005.68,"v":0.05},{"s":"R4","t":2005.88,"v":0.40},{"s":"R4","t":2006.08,"v":0.15},{"s":"R4","t":2006.28,"v":0.10},{"s":"R4","t":2006.48,"v":0.50},{"s":"R4","t":2006.68,"v":0.20},{"s":"R4","t":2006.88,"v":0.55},{"s":"R4","t":2007.08,"v":0.10},{"s":"R4","t":2007.28,"v":0.20},{"s":"R4","t":2007.48,"v":0.00},{"s":"R4","t":2007.68,"v":-0.20},{"s":"R4","t":2007.88,"v":0.30},{"s":"R4","t":2008.08,"v":-0.10},{"s":"R4","t":2008.28,"v":-0.40},{"s":"R4","t":2008.48,"v":-0.30},{"s":"R4","t":2008.68,"v":-0.05},{"s":"R4","t":2008.88,"v":0.10},{"s":"R4","t":2009.08,"v":-0.05},{"s":"R4","t":2009.28,"v":0.15},{"s":"R4","t":2009.48,"v":0.20},{"s":"R4","t":2009.68,"v":0.35},{"s":"R4","t":2009.88,"v":0.45},{"s":"R4","t":2010.08,"v":0.25},{"s":"R4","t":2010.28,"v":0.55},{"s":"R4","t":2010.48,"v":0.45},{"s":"R4","t":2010.68,"v":0.60},{"s":"R4","t":2010.82,"v":0.20}
]
},
"resolve":{"axis":{"x":"independent","y":"independent"}},
"layer":[
{"data":{"values":[{}]},
 "mark":{"type":"rule","color":"black","strokeWidth":1},
 "encoding":{
  "x":{"datum":1979,"type":"quantitative","scale":{"domain":[1979,2010.82],"nice":false,"zero":false},"axis":{"orient":"bottom","values":[1979,1980,1981,1982,1983,1984,1985,1986,1987,1988,1989,1990,1991,1992,1993,1994,1995,1996,1997,1998,1999,2000,2001,2002,2003,2004,2005,2006,2007,2008,2009,2010],"tickSize":-4,"labels":false,"domain":false,"title":null}},
  "x2":{"datum":2010.82},
  "y":{"datum":0,"type":"quantitative","scale":{"domain":[-1,1.5],"nice":false,"zero":false},"axis":null}}},
{"data":{"values":[{}]},
 "mark":{"type":"rule","color":"black","strokeWidth":1},
 "encoding":{
  "x":{"datum":1979,"type":"quantitative","axis":{"orient":"top","values":[1979,1980,1981,1982,1983,1984,1985,1986,1987,1988,1989,1990,1991,1992,1993,1994,1995,1996,1997,1998,1999,2000,2001,2002,2003,2004,2005,2006,2007,2008,2009,2010],"tickSize":-4,"labels":false,"domain":false,"title":null}},
  "x2":{"datum":2010.82},
  "y":{"datum":0,"type":"quantitative","axis":null}}},
{"data":{"name":"sondes"},
 "mark":{"type":"line","strokeWidth":2,"clip":true},
 "encoding":{
  "x":{"field":"t","type":"quantitative","axis":{"orient":"bottom","values":[1980,1985,1990,1995,2000,2005,2010],"format":"d","tickSize":-6,"labelPadding":18,"domain":true,"title":null}},
  "y":{"field":"v","type":"quantitative","axis":{"orient":"left","values":[-1,-0.5,0,0.5,1,1.5],"labelExpr":"(datum.value < 0 ? '-' : '') + format(abs(datum.value), '.1f')","tickSize":6,"labelPadding":8,"domain":true,"title":["300-700 hPa","T anomaly difference (K)"],"titleX":-81,"titleY":143,"titleAngle":-90,"titleAlign":"center","titleBaseline":"alphabetic","titleLineHeight":20}},
  "detail":{"field":"s"},
  "color":{"datum":"Radiosondes","scale":{"domain":["Radiosondes","Models"],"range":["#ff0000","#000000"]},"legend":{"orient":"none","legendX":80,"legendY":27,"title":null,"symbolType":"M-2.16,0H2.16","symbolSize":361,"symbolStrokeWidth":2.5,"labelFontSize":17,"labelFont":"Liberation Sans","labelColor":"black","labelOffset":18,"rowPadding":2,"padding":0,"direction":"vertical"}}}},
{"data":{"name":"models"},
 "mark":{"type":"line","strokeWidth":3,"strokeJoin":"round","clip":true},
 "encoding":{
  "x":{"field":"t","type":"quantitative","axis":{"orient":"top","values":[1980,1985,1990,1995,2000,2005,2010],"tickSize":-6,"labels":false,"domain":true,"title":null}},
  "y":{"field":"v","type":"quantitative","axis":{"orient":"right","values":[-1,-0.5,0,0.5,1,1.5],"tickSize":-4,"labels":false,"domain":false,"title":null}},
  "detail":{"field":"s"},
  "color":{"datum":"Models"}}}
]
}
